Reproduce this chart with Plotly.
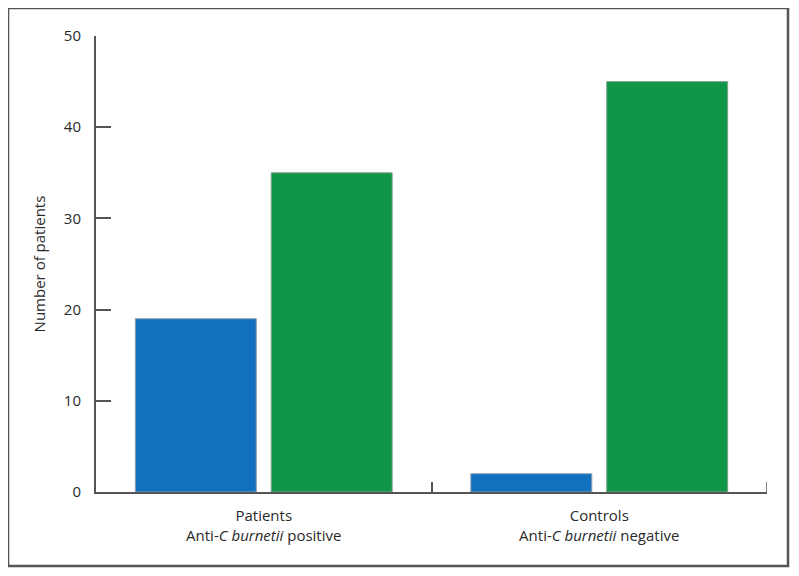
import plotly.graph_objects as go

categories = ["Patients<br>Anti-<i>C burnetii</i> positive",
              "Controls<br>Anti-<i>C burnetii</i> negative"]
series1 = [19, 2]
series2 = [35, 45]
y_ticks = [0, 10, 20, 30, 40, 50]
x_boundaries = [-0.5, 0.5, 1.5]

BLUE = "rgb(17,113,190)"
GREEN = "rgb(16,150,72)"
AX = "#555555"
FONT = "Open Sans"

fig = go.Figure()
fig.add_trace(go.Bar(x=categories, y=series1, marker=dict(color=BLUE, line=dict(color="#8a9bb0", width=1)), showlegend=False))
fig.add_trace(go.Bar(x=categories, y=series2, marker=dict(color=GREEN, line=dict(color="#7fa08a", width=1)), showlegend=False))
# invisible trace to activate the boundary-tick axis
fig.add_trace(go.Scatter(x=x_boundaries, y=[0, 0, 0], xaxis="x2", mode="markers",
                         marker=dict(opacity=0), hoverinfo="skip", showlegend=False))

fig.update_layout(
    width=791, height=568,
    margin=dict(l=88, r=32, t=28, b=84),
    paper_bgcolor="white", plot_bgcolor="white",
    barmode="group", bargap=0.19, bargroupgap=0.11,
    font=dict(family=FONT, size=15, color="#2a2a2a"),
    xaxis=dict(showline=True, linecolor=AX, linewidth=2, ticks="", showgrid=False, zeroline=False,
               ticklabelstandoff=9, tickfont=dict(size=15, color="#2a2a2a")),
    xaxis2=dict(overlaying="x", anchor="y", side="bottom", range=[-0.5, 1.5], tickvals=x_boundaries,
                ticks="inside", ticklen=10, tickwidth=1.5, tickcolor=AX, showticklabels=False,
                showgrid=False, zeroline=False, showline=False),
    yaxis=dict(range=[0, 50], tickvals=y_ticks, showline=True, linecolor=AX, linewidth=2,
               ticks="inside", ticklen=15, tickwidth=1.5, tickcolor=AX, showgrid=False, zeroline=False,
               ticklabelstandoff=10,
               title=dict(text="Number of patients", standoff=15, font=dict(size=15, color="#2a2a2a"))),
    shapes=[dict(type="rect", xref="paper", yref="paper", x0=-0.1311, x1=1.0313, y0=-0.1623, y1=1.0614,
                 line=dict(color=AX, width=2.5), layer="above"),
            dict(type="line", xref="x2", yref="paper", x0=x_boundaries[-1], x1=x_boundaries[-1],
                 y0=0, y1=0.022, line=dict(color=AX, width=1.5), layer="above")],
)
fig.write_html("out.html")
